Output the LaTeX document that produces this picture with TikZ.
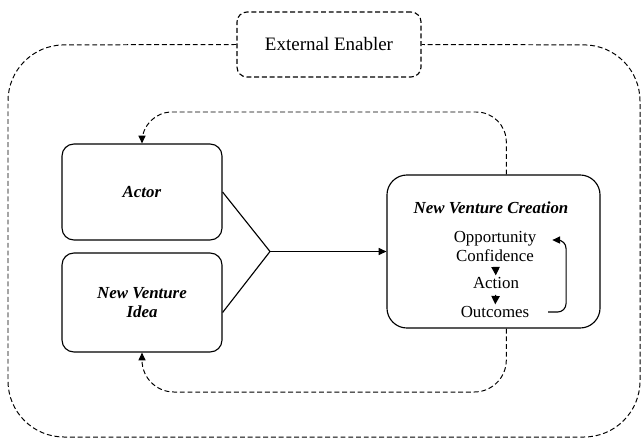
\documentclass[tikz,border=0pt]{standalone}
\usepackage{fontspec}
\setmainfont{Liberation Serif}
\usetikzlibrary{arrows.meta}

\begin{document}
\begin{tikzpicture}[
    x=0.025cm, y=-0.025cm,
    >={Triangle[length=5.5pt,width=5pt]},
    line width=0.8pt,
    every node/.style={font=\fontsize{12}{13.5}\selectfont, inner sep=1pt},
    box/.style={draw, rounded corners=0.3cm, minimum width=4cm},
    dashbox/.style={draw, dashed, dash pattern=on 3.5pt off 2pt, rounded corners=0.25cm,
                    minimum width=4.6cm, minimum height=1.625cm},
    frame/.style={dashed, dash pattern=on 3.5pt off 2pt, line width=0.7pt},
    feedback/.style={frame, ->},
    step arrow/.style={-{Triangle[length=6pt,width=6pt]}, shorten <=3pt}
]
  \useasboundingbox (0,0) rectangle (643,441);

  % nodes (placed to match the screenshot, pixel units)
  \node[dashbox, font=\fontsize{13.5}{15}\selectfont] (enabler) at (329,44.5) {External Enabler};
  \node[box, minimum height=2.4cm] (actor) at (142,192) {\textbf{\textit{Actor}}};
  \node[box, minimum height=2.475cm, align=center] (idea) at (142,302.5) {\textbf{\textit{New Venture}}\\\textbf{\textit{Idea}}};
  \node[box, rounded corners=0.5cm, minimum width=5.325cm, minimum height=3.825cm] (nvc) at (493.5,251.5) {};
  \node (nvctitle) at (491,208) {\textbf{\textit{New Venture Creation}}};
  \node[align=center] (oc) at (495,246.5) {Opportunity\\Confidence};
  \node (action) at (496,283) {Action};
  \node (outcomes) at (495,312) {Outcomes};
  \coordinate (join) at (270,251.5);
  \coordinate (topturn) at (142,112);
  \coordinate (botturn) at (142,392);

  % outer enabler frame
  \draw[frame, rounded corners=1.4cm] (enabler.west) -- (8,45) -- (8,437) -- (640,437) -- (640,45) -- (enabler.east);

  % edges
  \draw (actor.east) -- (join) -- ([yshift=-0.25cm]idea.east);
  \draw[->] (join) -- (nvc.west);
  \draw[step arrow] (oc) -- (action);
  \draw[step arrow] (action) -- (outcomes);
  \draw[->, rounded corners=6pt] ([xshift=12pt]outcomes.east) -- ++(18,0) |- ([xshift=10pt,yshift=4.6pt]oc.east);

  % feedback loops
  \draw[feedback, rounded corners=0.75cm] ([xshift=0.32cm]nvc.north) |- (topturn) -- (actor.north);
  \draw[feedback, rounded corners=0.8cm] ([xshift=0.32cm]nvc.south) |- (botturn) -- (idea.south);
\end{tikzpicture}
\end{document}
